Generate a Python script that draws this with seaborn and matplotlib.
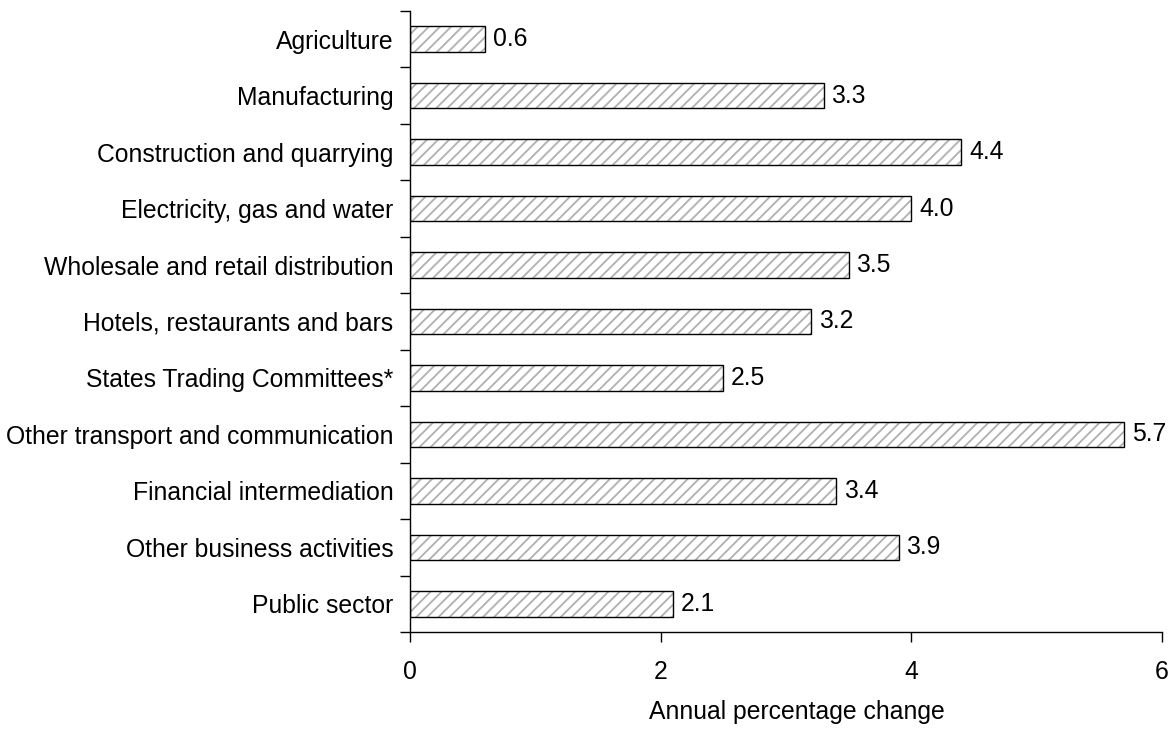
import matplotlib
matplotlib.use("Agg")
import matplotlib.pyplot as plt
import seaborn as sns
import pandas as pd

sectors = [
    "Agriculture",
    "Manufacturing",
    "Construction and quarrying",
    "Electricity, gas and water",
    "Wholesale and retail distribution",
    "Hotels, restaurants and bars",
    "States Trading Committees*",
    "Other transport and communication",
    "Financial intermediation",
    "Other business activities",
    "Public sector",
]
growth = [0.6, 3.3, 4.4, 4.0, 3.5, 3.2, 2.5, 5.7, 3.4, 3.9, 2.1]
x_ticks = [0, 2, 4, 6]

sns.set_style("white")
plt.rcParams["font.family"] = ["Liberation Sans", "DejaVu Sans"]
plt.rcParams["text.color"] = "black"
plt.rcParams["xtick.color"] = "black"
plt.rcParams["ytick.color"] = "black"
plt.rcParams["axes.labelcolor"] = "black"
plt.rcParams["hatch.linewidth"] = 1.3
plt.rcParams["hatch.color"] = "#b0b0b0"

FS = 17.8

df = pd.DataFrame({"sector": sectors, "growth": growth})

fig = plt.figure(figsize=(11.76, 7.29), dpi=100)
ax = fig.add_axes([0.3486, 0.133, 0.6394, 0.852])

# hatched fill in grey
sns.barplot(data=df, y="sector", x="growth", orient="h", ax=ax,
            color="white", width=0.45, edgecolor="#b0b0b0", linewidth=0,
            hatch="///", saturation=1)
# black outline on top
sns.barplot(data=df, y="sector", x="growth", orient="h", ax=ax,
            fill=False, width=0.45, edgecolor="black", linewidth=1.0)

for i, v in enumerate(growth):
    ax.annotate(f"{v:.1f}", xy=(v, i), xytext=(5.5, 0), textcoords="offset points",
                va="center", ha="left", fontsize=FS)

ax.set_xlim(0, 6)
ax.set_ylim(len(sectors) - 0.5, -0.5)
ax.set_xticks(x_ticks)
ax.set_xticklabels([str(t) for t in x_ticks], fontsize=FS)
ax.set_yticks([i - 0.5 for i in range(len(sectors) + 1)], minor=False)
ax.set_yticklabels([])
ax.set_yticks(range(len(sectors)), minor=True)
ax.set_yticklabels(sectors, minor=True, fontsize=FS)
ax.tick_params(axis="y", which="major", direction="out", length=7, width=1, left=True)
ax.tick_params(axis="y", which="minor", length=0, pad=12)
ax.tick_params(axis="x", direction="out", length=7, width=1, bottom=True, pad=13)

for side in ["top", "right"]:
    ax.spines[side].set_visible(False)
for side in ["left", "bottom"]:
    ax.spines[side].set_color("black")
    ax.spines[side].set_linewidth(1)

ax.set_ylabel("")
ax.set_xlabel("Annual percentage change", fontsize=FS, labelpad=12)
ax.xaxis.label.set_x(0.514)

fig.savefig("out.png", dpi=100)
